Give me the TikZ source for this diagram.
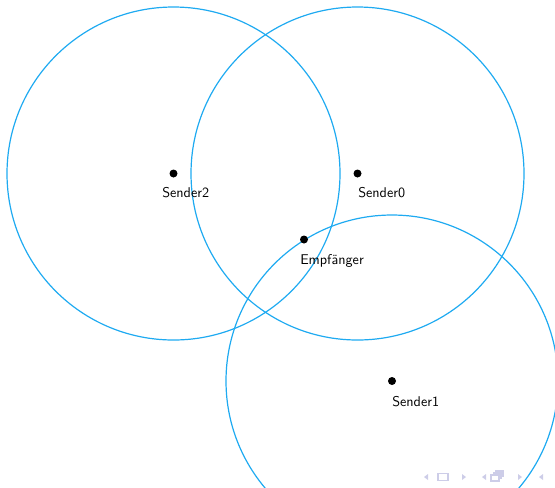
\documentclass[tikz,border=0pt]{standalone}
\usetikzlibrary{calc}
\definecolor{ringblue}{RGB}{30,170,241}
\definecolor{navgray}{RGB}{205,205,232}
\begin{document}
\begin{tikzpicture}[x=0.75pt,y=-0.75pt,
  station/.style={circle,fill=black,inner sep=0pt,minimum size=6pt},
  reach/.style={draw=ringblue,line width=0.9pt},
  tag/.style={anchor=base west,inner sep=0pt,font=\sffamily\fontsize{10.6}{12}\selectfont},
  nav/.style={fill=navgray,draw=none},
  navbox/.style={draw=navgray,line width=0.8pt}]
\useasboundingbox (0,0) rectangle (555,487);
\begin{scope}
\clip (0,0) rectangle (555,487);
% reception ranges
\draw[reach] (173.5,173.5) circle[radius=166.5];
\draw[reach] (357.5,173.5) circle[radius=166.5];
\draw[reach] (392,381) circle[radius=166];
% stations
\node[station] (s2) at (173.5,173.5) {};
\node[station] (s0) at (357.5,173.5) {};
\node[station] (s1) at (392,381) {};
\node[station] (rx) at (304,239.5) {};
\node[tag] (s2l) at (162,197) {Sender2};
\node[tag] (s0l) at (358,197) {Sender0};
\node[tag] (rxl) at (300,264) {Empfänger};
\node[tag] (s1l) at (392,406) {Sender1};
% navigation symbols
\fill[nav] (424,477) -- (428,474) -- (428,480) -- cycle;
\draw[navbox] (438,473.5) rectangle (448,480.5);
\fill[nav] (462,474) -- (466,477) -- (462,480) -- cycle;
\fill[nav] (482,477) -- (486,474) -- (486,480) -- cycle;
\draw[navbox] (491,475) rectangle (499,481);
\draw[navbox] (493,473) -- (501,473) -- (501,479);
\draw[navbox] (495,471) -- (503,471) -- (503,477);
\fill[nav] (518,474) -- (522,477) -- (518,480) -- cycle;
\fill[nav] (539,477) -- (543,474) -- (543,480) -- cycle;
\end{scope}
\end{tikzpicture}
\end{document}
